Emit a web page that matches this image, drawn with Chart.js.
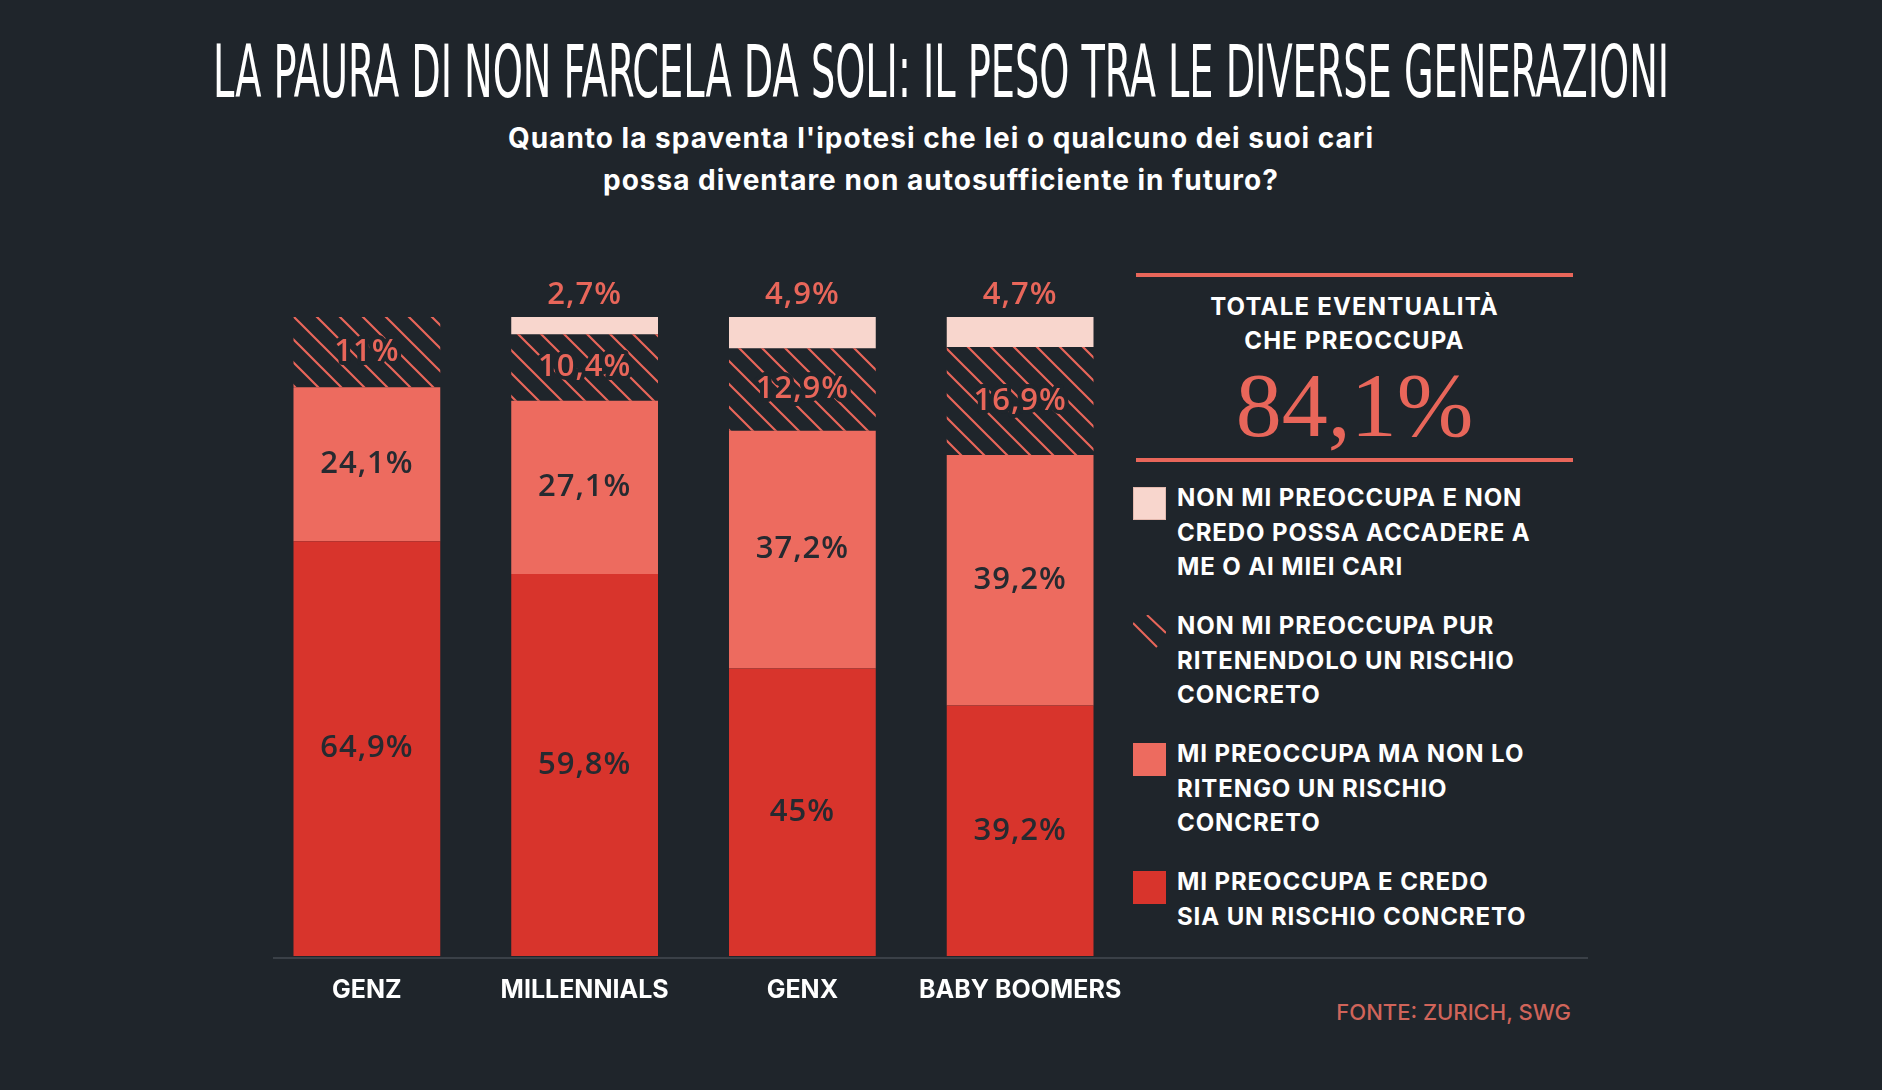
<!DOCTYPE html>
<html lang="it">
<head>
<meta charset="utf-8">
<title>La paura di non farcela da soli</title>
<script src="https://cdn.jsdelivr.net/npm/chart.js@4/dist/chart.umd.min.js"></script>
<style>
  html, body { margin: 0; padding: 0; }
  body {
    width: 1882px; height: 1090px; overflow: hidden;
    background: #1f252b; position: relative;
    font-family: Inter, "Noto Sans", sans-serif; color: #fff;
  }
  #grafico { position: absolute; left: 0; top: 0; width: 1882px; height: 1090px; }
  #titolo {
    position: absolute; left: 50%; top: 35px;
    font-family: "Liberation Sans Narrow", "DejaVu Sans Condensed", sans-serif;
    font-size: 73px; line-height: 73px; white-space: nowrap;
    transform-origin: center top;
  }
  #sottotitolo {
    position: absolute; left: 0; width: 1882px; top: 117px; text-align: center;
    font-weight: 700; font-size: 28px; line-height: 42px; letter-spacing: 1px;
  }
  .riga { position: absolute; left: 1136px; width: 437px; height: 4px; background: #e8665a; }
  #totale-testo {
    position: absolute; left: 1136px; width: 437px; top: 290px; text-align: center;
    font-weight: 700; font-size: 24px; line-height: 34px; letter-spacing: 1.2px;
  }
  #totale-valore {
    position: absolute; left: 1136px; width: 437px; top: 359px; text-align: center;
    font-family: "Liberation Serif", "DejaVu Serif", serif;
    font-size: 92px; line-height: 93px; color: #e8665a;
  }
  #legenda {
    position: absolute; left: 1133px; top: 481px;
    display: flex; flex-direction: column; gap: 24.5px;
  }
  .voce { display: flex; align-items: flex-start; }
  .box { width: 33px; height: 33px; margin-top: 6px; flex: none; box-sizing: border-box; }
  .voce span { margin-left: 11px; font-weight: 700; font-size: 24px; line-height: 34.5px; letter-spacing: 0.9px; }
  #asse { position: absolute; left: 273px; top: 957px; width: 1315px; height: 2px; background: #3a4047; }
  #fonte {
    position: absolute; right: 311px; top: 997px;
    font-weight: 500; font-size: 22px; line-height: 30px; color: #d0645a;
  }
</style>
</head>
<body>
<div id="titolo">LA PAURA DI NON FARCELA DA SOLI: IL PESO TRA LE DIVERSE GENERAZIONI</div>
<div id="sottotitolo">Quanto la spaventa l'ipotesi che lei o qualcuno dei suoi cari<br>possa diventare non autosufficiente in futuro?</div>

<div class="riga" style="top:273px"></div>
<div id="totale-testo">TOTALE EVENTUALITÀ<br>CHE PREOCCUPA</div>
<div id="totale-valore">84,1%</div>
<div class="riga" style="top:458px"></div>

<div id="legenda"></div>
<div id="asse"></div>
<div id="fonte">FONTE: ZURICH, SWG</div>

<canvas id="grafico"></canvas>

<script>
// Generazioni (asse x)
const generazioni = ["GENZ", "MILLENNIALS", "GENX", "BABY BOOMERS"];

// Valori in percentuale, dal basso verso l'alto della barra
const preoccupaRischio = [64.9, 59.8, 45, 39.2];
const preoccupaNonRischio = [24.1, 27.1, 37.2, 39.2];
const nonPreoccupaRischio = [11, 10.4, 12.9, 16.9];
const nonPreoccupaNonAccade = [null, 2.7, 4.9, 4.7];

// Nomi delle serie (righe della legenda)
const nomiSerie = [
    ["MI PREOCCUPA E CREDO", "SIA UN RISCHIO CONCRETO"],
    ["MI PREOCCUPA MA NON LO", "RITENGO UN RISCHIO", "CONCRETO"],
    ["NON MI PREOCCUPA PUR", "RITENENDOLO UN RISCHIO", "CONCRETO"],
    ["NON MI PREOCCUPA E NON", "CREDO POSSA ACCADERE A", "ME O AI MIEI CARI"]
];

const sfondo = "#1f252b";
const rosso = "#d8342c";
const salmone = "#ed6b5f";
const rosa = "#f8d6cd";
const linee = "#e8665a";
const scuro = "#262a30";

// Restringere il titolo alla larghezza dell'originale
const titolo = document.getElementById("titolo");
const k = 1456 / titolo.offsetWidth;
titolo.style.transform = `translateX(-50%) scaleX(${k})`;

// Motivo a righe diagonali per la terza serie
function creaTratteggio() {
    const passo = 23;
    const t = document.createElement("canvas");
    t.width = passo;
    t.height = passo;
    const c = t.getContext("2d");
    c.strokeStyle = linee;
    c.lineWidth = 2.2;
    c.beginPath();
    for (let o = -passo; o <= passo; o += passo) {
        c.moveTo(o - 2, -2);
        c.lineTo(o + passo + 2, passo + 2);
    }
    c.stroke();
    return c.createPattern(t, "repeat");
}

// Legenda HTML, dall'alto verso il basso
const legenda = document.getElementById("legenda");
const stili = [
    `background:${rosso}`,
    `background:${salmone}`,
    "",
    `background:${rosa};border:1px solid #e3b9ae`
];
for (let i = nomiSerie.length - 1; i >= 0; i--) {
    const voce = document.createElement("div");
    voce.className = "voce";
    let box = `<div class="box" style="${stili[i]}"></div>`;
    if (i === 2) {
        box = `<svg class="box" viewBox="0 0 33 33"><line x1="0" y1="8" x2="24" y2="32" stroke="${linee}" stroke-width="2"/><line x1="14" y1="0" x2="33" y2="18" stroke="${linee}" stroke-width="2"/></svg>`;
    }
    voce.innerHTML = box + `<span>${nomiSerie[i].join("<br>")}</span>`;
    legenda.appendChild(voce);
}

// Etichette dei valori sulle barre
const etichette = {
    id: "etichette",
    afterDatasetsDraw(chart) {
        const ctx = chart.ctx;
        ctx.save();
        ctx.font = '600 31px "Open Sans"';
        ctx.letterSpacing = "1px";
        ctx.textAlign = "center";
        ctx.textBaseline = "middle";
        ctx.lineJoin = "round";
        chart.data.datasets.forEach((ds, i) => {
            const meta = chart.getDatasetMeta(i);
            meta.data.forEach((bar, j) => {
                const v = ds.data[j];
                if (v == null) return;
                const testo = String(v).replace(".", ",") + "%";
                let y = (bar.y + bar.base) / 2;
                if (i === 3) y = bar.y - 22;
                if (i === 2) {
                    // alone scuro che interrompe le righe dietro al testo
                    ctx.strokeStyle = sfondo;
                    ctx.lineWidth = 8;
                    ctx.strokeText(testo, bar.x, y);
                }
                ctx.fillStyle = ds.coloreEtichetta;
                ctx.fillText(testo, bar.x, y);
            });
        });
        ctx.restore();
    }
};

const comune = { barPercentage: 0.674, categoryPercentage: 1, borderWidth: 0 };

new Chart(document.getElementById("grafico"), {
    type: "bar",
    data: {
        labels: generazioni,
        datasets: [
            { ...comune, label: nomiSerie[0].join(" "), data: preoccupaRischio, backgroundColor: rosso, coloreEtichetta: scuro },
            { ...comune, label: nomiSerie[1].join(" "), data: preoccupaNonRischio, backgroundColor: salmone, coloreEtichetta: scuro },
            { ...comune, label: nomiSerie[2].join(" "), data: nonPreoccupaRischio, backgroundColor: creaTratteggio(), coloreEtichetta: linee },
            { ...comune, label: nomiSerie[3].join(" "), data: nonPreoccupaNonAccade, backgroundColor: rosa, coloreEtichetta: linee }
        ]
    },
    options: {
        responsive: true,
        maintainAspectRatio: false,
        animation: false,
        layout: { padding: { left: 258, right: 753, top: 317, bottom: 0 } },
        plugins: { legend: { display: false }, tooltip: { enabled: false } },
        scales: {
            x: {
                stacked: true,
                grid: { display: false, drawTicks: false },
                border: { display: false },
                ticks: {
                    color: "#ffffff",
                    padding: 19,
                    font: { family: "Inter", weight: "700", size: 25 }
                },
                afterFit: (scala) => { scala.height = 134; }
            },
            y: { stacked: true, display: false, min: 0, max: 100 }
        }
    },
    plugins: [etichette]
});
</script>
</body>
</html>
